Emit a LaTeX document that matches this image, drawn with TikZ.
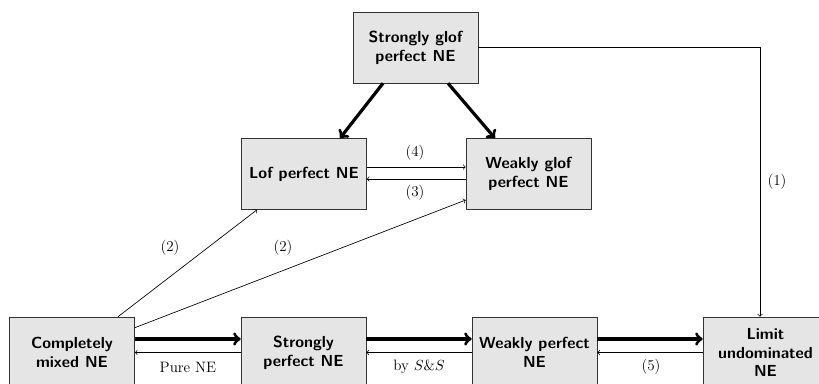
\documentclass[tikz,border=0pt]{standalone}
\usetikzlibrary{calc}
\begin{document}
\begin{tikzpicture}[x=0.75pt,y=-0.75pt,
  boxnode/.style={draw=black!80, fill=black!10, rectangle, minimum width=93.75pt, minimum height=53.25pt, inner sep=2pt, align=center, font=\sffamily\bfseries\large},
  thin arrow/.style={->, line width=0.5pt},
  bold arrow/.style={->, line width=2.4pt},
  lbl/.style={inner sep=0pt, font=\fontsize{11.3}{13}\selectfont}
]
\useasboundingbox (0,0) rectangle (819,383);
\node[boxnode] (top) at (415.5,47.5) {Strongly glof\\perfect NE};
\node[boxnode] (lof) at (304,174) {Lof perfect NE};
\node[boxnode] (wglof) at (528.5,174) {Weakly glof\\perfect NE};
\node[boxnode] (cm) at (72,352.5) {Completely\\mixed NE};
\node[boxnode] (sp) at (303.5,352.5) {Strongly\\perfect NE};
\node[boxnode] (wp) at (534.5,352.5) {Weakly perfect\\NE};
\node[boxnode] (lu) at (765.5,352.5) {Limit\\undominated\\NE};

% top thick arrows
\draw[bold arrow] ($(top.south)+(-32.5,0)$) -- ($(lof.north)+(36,0)$);
\draw[bold arrow] ($(top.south)+(32.5,0)$) -- ($(wglof.north)+(-33.5,0)$);

% (4) and (3)
\draw[thin arrow] ($(lof.east)+(0,-7)$) -- ($(wglof.west)+(0,-7)$);
\draw[thin arrow] ($(wglof.west)+(0,5)$) -- ($(lof.east)+(0,5)$);
\node[lbl] (l4) at (415,153) {(4)};
\node[lbl] (l3) at (415,193) {(3)};

% (1)
\coordinate (c1) at ($(lu.north)+(-5.5,0)$);
\draw[thin arrow] (top.east) -| (c1);
\node[lbl] (l1) at (777,182) {(1)};

% (2)
\draw[thin arrow] ($(cm.north)+(46,0)$) -- ($(lof.south)+(-47,0)$);
\draw[thin arrow] ($(cm.north east)+(0,11)$) -- ($(wglof.west)+(0,26)$);
\node[lbl] (l2a) at (170,248) {(2)};
\node[lbl] (l2b) at (283,248) {(2)};

% bottom row
\draw[bold arrow] ($(cm.east)+(0,-13.5)$) -- ($(sp.west)+(0,-13.5)$);
\draw[thin arrow] (sp.west) -- (cm.east);
\node[lbl] (lp) at (188,367) {Pure NE};

\draw[bold arrow] ($(sp.east)+(0,-13.5)$) -- ($(wp.west)+(0,-13.5)$);
\draw[thin arrow] (wp.west) -- (sp.east);
\node[lbl] (lss) at (419,367) {by $S\&S$};

\draw[bold arrow] ($(wp.east)+(0,-13.5)$) -- ($(lu.west)+(0,-13.5)$);
\draw[thin arrow] (lu.west) -- (wp.east);
\node[lbl] (l5) at (651,367) {(5)};
\end{tikzpicture}
\end{document}
